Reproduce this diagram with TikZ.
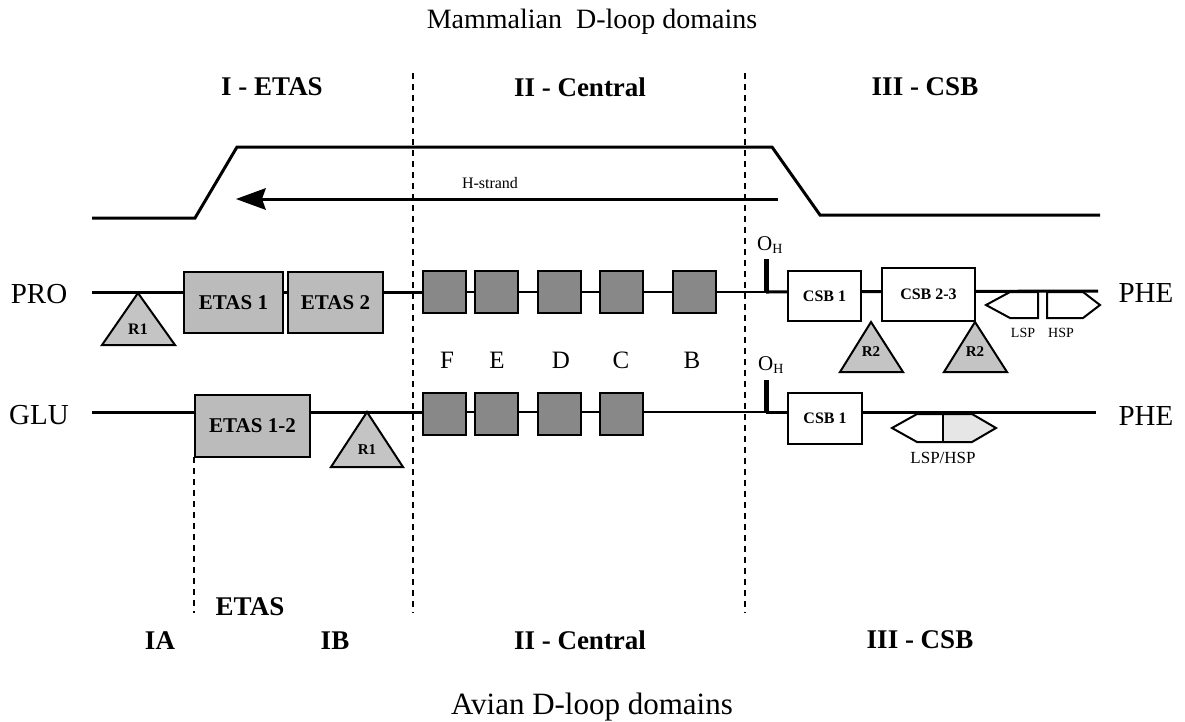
\documentclass[tikz,border=0pt]{standalone}
\usepackage{fontspec}
\setmainfont{Liberation Serif}
\newcommand{\fs}[1]{\fontsize{#1}{#1}\selectfont}
\begin{document}
\begin{tikzpicture}[x=1pt,y=-1pt,
  strand/.style={line width=3pt},
  thinstrand/.style={line width=2pt},
  divider/.style={line width=2.2pt,dash pattern=on 6pt off 5pt},
  etasbox/.style={draw,line width=2pt,fill=etasgray,inner sep=0pt,font=\fs{21}\bfseries},
  cbox/.style={draw,line width=2pt,fill=cgray,minimum width=43pt,minimum height=42pt,inner sep=0pt},
  csbbox/.style={draw,line width=2pt,fill=white,inner sep=0pt,font=\fs{16}\bfseries},
  tri/.style={draw,line width=2pt,fill=trigray,line join=miter},
  prom/.style={draw,line width=2pt,fill=white},
  sect/.style={font=\fs{27}\bfseries},
  endlab/.style={font=\fs{29}},
  letter/.style={font=\fs{25}},
  trilab/.style={font=\fs{15}\bfseries},
  small/.style={font=\fs{14}},
  oh/.style={font=\fs{21}}
]
\definecolor{etasgray}{HTML}{BBBBBB}
\definecolor{cgray}{HTML}{888888}
\definecolor{trigray}{HTML}{C4C4C4}
\definecolor{hspgray}{HTML}{E6E6E6}
\useasboundingbox (0,0) rectangle (1185,721);

% titles
\node[font=\fs{28}] (mam) at (592,22) {Mammalian\ \ D-loop domains};
\node[font=\fs{31}] (avi) at (592,707) {Avian D-loop domains};
\node[sect] (s1) at (272,87) {I - ETAS};
\node[sect] (s2) at (580,87) {II - Central};
\node[sect] (s3) at (925,87) {III - CSB};
\node[sect] (b0) at (250,607) {ETAS};
\node[sect] (b1) at (160,641) {IA};
\node[sect] (b2) at (335,641) {IB};
\node[sect] (b3) at (580,640) {II - Central};
\node[sect] (b4) at (920,640) {III - CSB};

% dashed dividers
\coordinate (d1t) at (413,73); \coordinate (d1b) at (413,613);
\coordinate (d2t) at (745,73); \coordinate (d2b) at (745,613);
\coordinate (d3t) at (194,457); \coordinate (d3b) at (194,613);
\draw[divider] (d1t) -- (d1b);
\draw[divider] (d2t) -- (d2b);
\draw[divider] (d3t) -- (d3b);

% D-loop trapezoid
\coordinate (t0) at (92,218);
\coordinate (t1) at (195,218);
\coordinate (t2) at (237,147);
\coordinate (t3) at (772,147);
\coordinate (t4) at (820,215);
\coordinate (t5) at (1100,215);
\draw[strand,line join=miter] (t0) -- (t1) -- (t2) -- (t3) -- (t4) -- (t5);

% H-strand arrow
\coordinate (hs) at (778,199);
\coordinate (he) at (236,199);
\draw[strand] (hs) -- (262,199);
\fill (he) -- (266,188) -- (262,199) -- (266,210) -- cycle;
\node[font=\fs{16}] (hlab) at (490,183) {H-strand};

% end labels
\node[endlab] (pro) at (39,294) {PRO};
\node[endlab] (phe1) at (1146,293) {PHE};
\node[endlab] (glu) at (39,415) {GLU};
\node[endlab] (phe2) at (1146,416) {PHE};

% ---------- PRO row (mammalian)
\coordinate (p0) at (92,292);
\coordinate (p1) at (423,292);
\coordinate (p2) at (766,292);
\coordinate (p3) at (1098,291);
\draw[strand] (p0) -- (p1);
\draw[thinstrand] (p1) -- (p2);
\draw[strand] (p2) -- (p3);

% R1 triangle
\draw[tri] (138,293) -- (175,345) -- (102,345) -- cycle;
\node[font=\fs{16}\bfseries] (r1a) at (138,329) {R1};

\node[etasbox,minimum width=99pt,minimum height=61pt] (etas1) at (233.5,302.5) {ETAS 1};
\node[etasbox,minimum width=95pt,minimum height=61pt] (etas2) at (335.5,302.5) {ETAS 2};

\node[cbox] (F1) at (444.5,292) {};
\node[cbox] (E1) at (496,292) {};
\node[cbox] (D1) at (559,292) {};
\node[cbox] (C1) at (621.5,292) {};
\node[cbox] (B1) at (694,292) {};

\node[letter] (lF) at (447,360) {F};
\node[letter] (lE) at (497,360) {E};
\node[letter] (lD) at (561,360) {D};
\node[letter] (lC) at (621,360) {C};
\node[letter] (lB) at (692,360) {B};

% O_H upper
\coordinate (oh1t) at (766,259);
\draw[line width=5pt] (oh1t) -- (p2);
\node[oh,inner sep=0pt] (oh1) at (770,245) {O\textsubscript{\fs{14}H}};

\node[csbbox,minimum width=73pt,minimum height=50pt] (csb1) at (824.5,296) {CSB 1};
\node[csbbox,minimum width=93pt,minimum height=53pt] (csb23) at (928.5,294.5) {CSB 2-3};

\draw[tri] (871,322) -- (903,372) -- (840,372) -- cycle;
\node[trilab] (r2a) at (871,352) {R2};
\draw[tri] (975,322) -- (1007,372) -- (944,372) -- cycle;
\node[trilab] (r2b) at (975,352) {R2};

% LSP / HSP promoters
\draw[prom] (986,305) -- (1010,292) -- (1038,292) -- (1038,318) -- (1010,318) -- cycle;
\draw[prom] (1047,292) -- (1083,292) -- (1100,305) -- (1083,318) -- (1047,318) -- cycle;
\node[small] (lsp) at (1023,333) {LSP};
\node[small] (hsp) at (1061,333) {HSP};

% ---------- GLU row (avian)
\coordinate (g0) at (92,412);
\coordinate (g1) at (423,412);
\coordinate (g2) at (766,412);
\coordinate (g3) at (1096,412);
\draw[strand] (g0) -- (g1);
\draw[thinstrand] (g1) -- (g2);
\draw[strand] (g2) -- (g3);

\node[etasbox,minimum width=115pt,minimum height=62pt] (etas12) at (252.5,426) {ETAS 1-2};

\draw[tri] (367,412) -- (403,467) -- (331,467) -- cycle;
\node[trilab] (r1b) at (367,450) {R1};

\node[cbox] (F2) at (444.5,414) {};
\node[cbox] (E2) at (496,414) {};
\node[cbox] (D2) at (559,414) {};
\node[cbox] (C2) at (621.5,414) {};

\coordinate (oh2t) at (766,380);
\draw[line width=5pt] (oh2t) -- (g2);
\node[oh,inner sep=0pt] (oh2) at (771,365) {O\textsubscript{\fs{14}H}};

\node[csbbox,minimum width=74pt,minimum height=51pt] (csb1b) at (825,418.5) {CSB 1};

% LSP/HSP double promoter
\fill[hspgray] (943,414) -- (972,414) -- (996,428) -- (972,442) -- (943,442) -- cycle;
\draw[line width=2pt] (892,428) -- (917,414) -- (972,414) -- (996,428) -- (972,442) -- (917,442) -- cycle;
\draw[line width=2pt] (943,414) -- (943,442);
\node[font=\fs{17}] (lsphsp) at (943,458) {LSP/HSP};
\end{tikzpicture}
\end{document}
